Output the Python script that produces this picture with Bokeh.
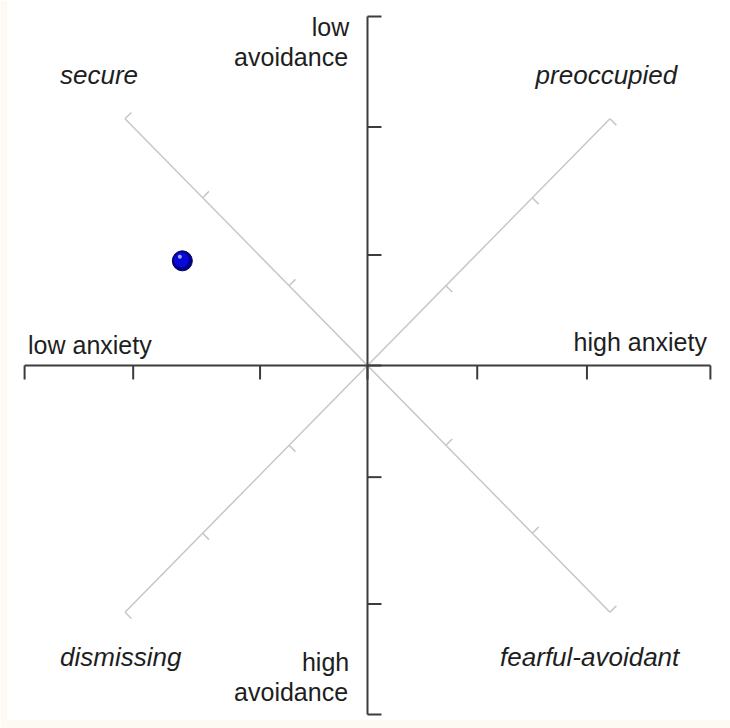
import math
from bokeh.plotting import figure
from bokeh.models import Range1d
from bokeh.core.properties import value
from bokeh.embed import file_html
from bokeh.resources import INLINE

# ---- data (1..7 attachment scales, centre 4) ----
scale_min, scale_mid, scale_max = 1.0, 4.0, 7.0
anxiety_ticks = [1.0, 1.95, 3.06, 4.0, 4.96, 5.92, 7.0]
avoidance_ticks = [1.0, 1.95, 3.05, 4.0, 4.96, 6.05, 7.0]
diag_ticks = [-3.0, -2.04, -0.97, 0.97, 2.04, 3.0]   # distance along each diagonal from centre
diag_half = 3.0

person_anxiety = [2.38]
person_avoidance = [3.10]

style_names = ["secure", "preoccupied", "dismissing", "fearful-avoidant"]
style_x = [1.31, 6.71, 1.31, 5.16]
style_y = [1.50, 1.50, 6.51, 6.51]
style_align = ["left", "right", "left", "left"]

pole_labels = ["low", "avoidance", "high", "avoidance", "low anxiety", "high anxiety"]
pole_x = [3.84, 3.83, 3.84, 3.83, 1.03, 6.97]
pole_y = [1.09, 1.35, 6.55, 6.81, 3.82, 3.80]
pole_align = ["right", "right", "right", "right", "left", "right"]

# ---- layout ----
W, H = 730, 728
PX_X, PX_Y = 114.3, 116.3        # pixels per scale unit
LEFT_PAD, BOTTOM_PAD = 7, 9
CX, CY = 367, 365                # centre in pixels
frame_w = W - LEFT_PAD
frame_h = H - BOTTOM_PAD
x0 = scale_mid - (CX - LEFT_PAD) / PX_X
y_top = scale_mid - CY / PX_Y

AXIS = "#3c3c3c"
DIAG = "#c6c6c6"
TEXT = "#1e1e1e"
FONT = "Liberation Sans"

p = figure(width=W, height=H, title=None,
           x_range=Range1d(x0, x0 + frame_w / PX_X),
           y_range=Range1d(y_top + frame_h / PX_Y, y_top),
           output_backend="svg", toolbar_location=None,
           x_axis_location=None, y_axis_location=None,
           min_border_left=LEFT_PAD, min_border_right=0,
           min_border_top=0, min_border_bottom=BOTTOM_PAD,
           background_fill_color="white", border_fill_color="#fcfaf2",
           outline_line_color=None)
for g in p.grid:
    g.visible = False

# diagonals
r = diag_half / math.sqrt(2)
p.segment(x0=[scale_mid - r, scale_mid - r], y0=[scale_mid - r, scale_mid + r],
          x1=[scale_mid + r, scale_mid + r], y1=[scale_mid + r, scale_mid - r],
          line_color=DIAG, line_width=1.5)
DT = 9.0 / math.sqrt(2)
d1x0, d1y0, d1x1, d1y1 = [], [], [], []
d2x0, d2y0, d2x1, d2y1 = [], [], [], []
for d in diag_ticks:
    s = d / math.sqrt(2)
    bx, by = scale_mid + s, scale_mid + s
    d1x0.append(bx); d1y0.append(by)
    d1x1.append(bx + DT / PX_X); d1y1.append(by - DT / PX_Y)
    bx, by = scale_mid + s, scale_mid - s
    d2x0.append(bx); d2y0.append(by)
    d2x1.append(bx + DT / PX_X); d2y1.append(by + DT / PX_Y)
p.segment(x0=d1x0, y0=d1y0, x1=d1x1, y1=d1y1, line_color=DIAG, line_width=1.5)
p.segment(x0=d2x0, y0=d2y0, x1=d2x1, y1=d2y1, line_color=DIAG, line_width=1.5)

# main axes
p.segment(x0=[scale_min, scale_mid], y0=[scale_mid, scale_min],
          x1=[scale_max, scale_mid], y1=[scale_mid, scale_max],
          line_color=AXIS, line_width=2)
TL = 14.0
p.segment(x0=anxiety_ticks, y0=[scale_mid] * len(anxiety_ticks),
          x1=anxiety_ticks, y1=[scale_mid + TL / PX_Y] * len(anxiety_ticks),
          line_color=AXIS, line_width=2)
p.segment(x0=[scale_mid] * len(avoidance_ticks), y0=avoidance_ticks,
          x1=[scale_mid + TL / PX_X] * len(avoidance_ticks), y1=avoidance_ticks,
          line_color=AXIS, line_width=2)

# the person's position (shaded ball)
p.scatter(person_anxiety, person_avoidance, size=20, fill_color="#00008c",
          line_color="#000060", line_width=1)
p.scatter([a - 1.0 / PX_X for a in person_anxiety], [v - 1.2 / PX_Y for v in person_avoidance],
          size=15, fill_color="#0808d8", line_color=None)
p.scatter([a - 2.5 / PX_X for a in person_anxiety], [v - 4.0 / PX_Y for v in person_avoidance],
          size=4, fill_color="#a8a8ff", line_color=None)

# labels
for t, x, y, al in zip(style_names, style_x, style_y, style_align):
    p.text(x=[x], y=[y], text=[t], text_font=value(FONT), text_font_size="26px",
           text_font_style="italic", text_align=al, text_baseline="alphabetic",
           text_color=TEXT)
for t, x, y, al in zip(pole_labels, pole_x, pole_y, pole_align):
    p.text(x=[x], y=[y], text=[t], text_font=value(FONT), text_font_size="25px",
           text_align=al, text_baseline="alphabetic", text_color=TEXT)

open("out.html", "w").write(file_html(p, INLINE))
